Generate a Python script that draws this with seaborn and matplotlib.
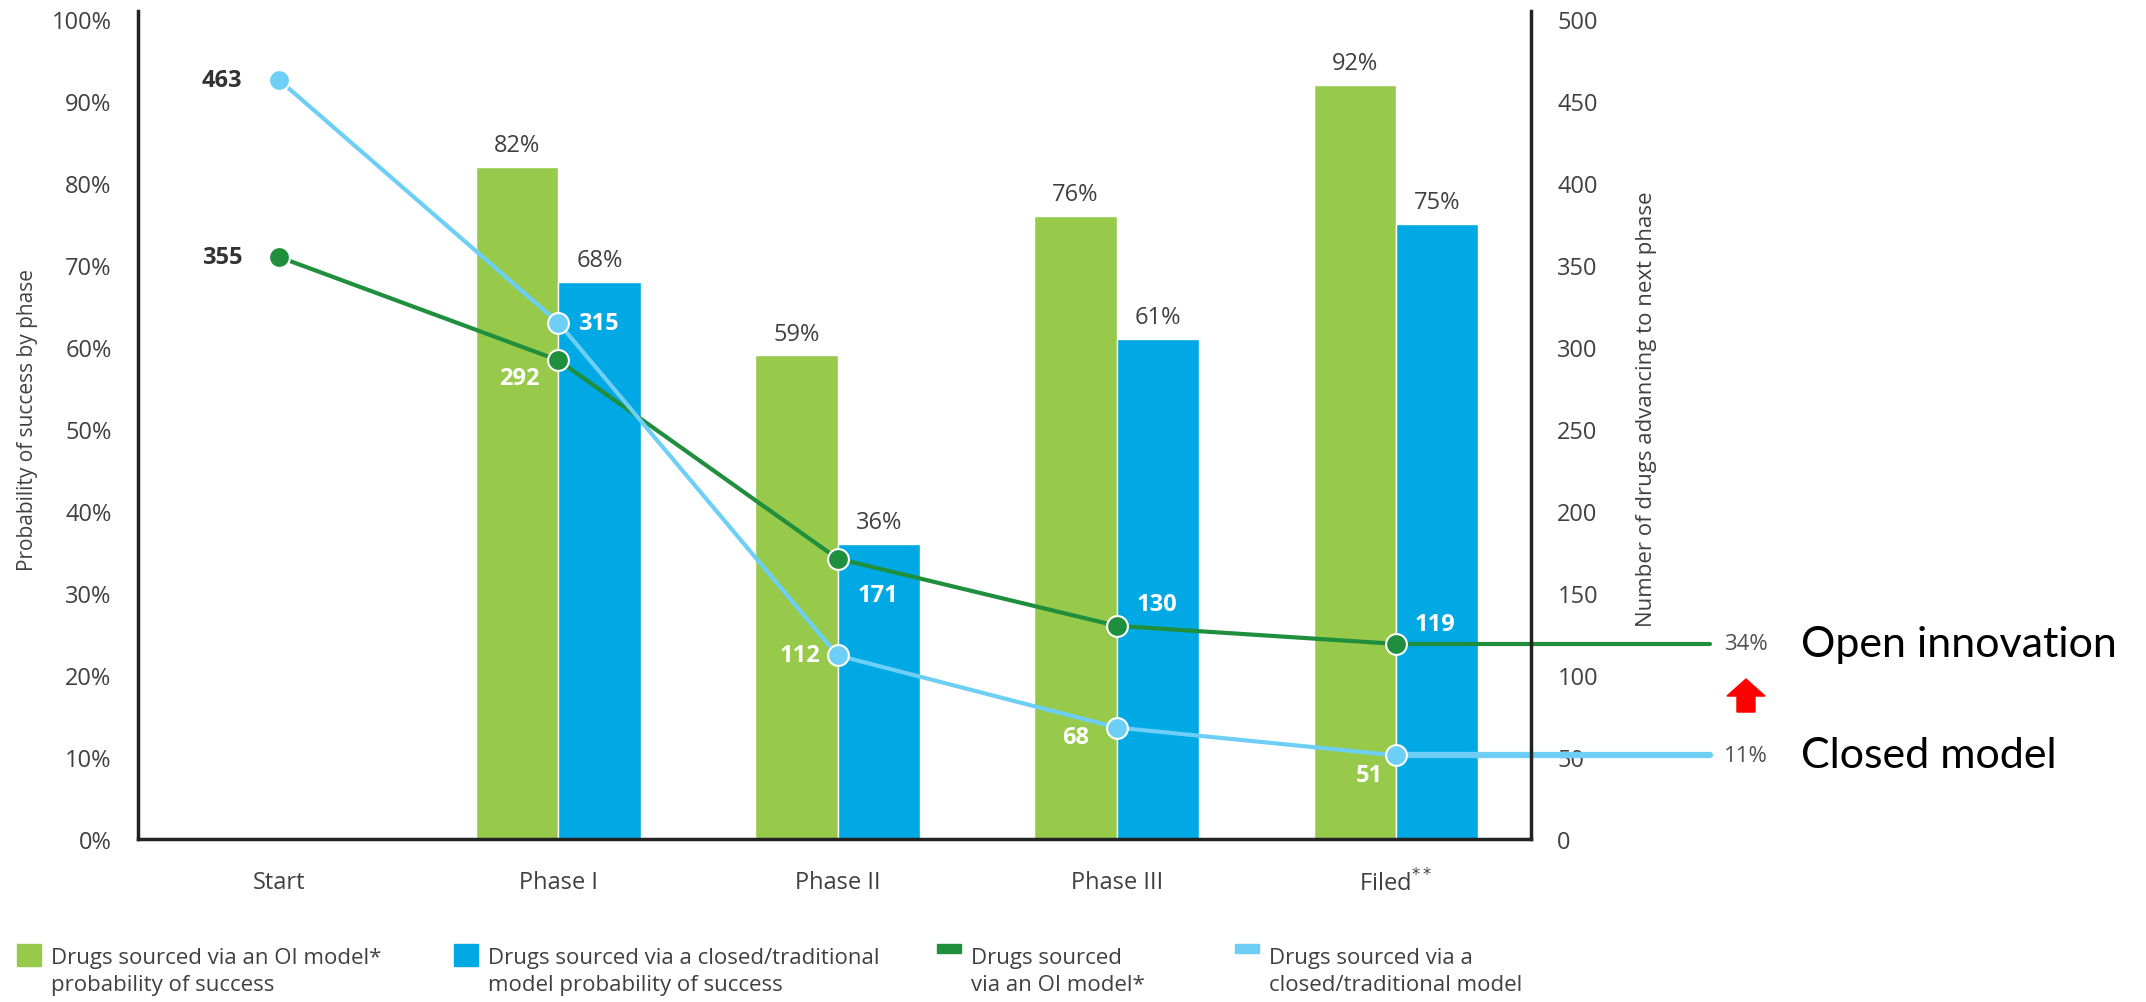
import matplotlib.pyplot as plt
import matplotlib.patches as mpatches
from matplotlib.legend_handler import HandlerPatch
import numpy as np
import pandas as pd
import seaborn as sns

# data
phases = ['Start', 'Phase I', 'Phase II', 'Phase III', 'Filed$^{**}$']
oi_success = [82, 59, 76, 92]          # % success, Phase I .. Filed
closed_success = [68, 36, 61, 75]
oi_drugs = [355, 292, 171, 130, 119]   # drugs advancing, Start .. Filed
closed_drugs = [463, 315, 112, 68, 51]
oi_overall = '34%'
closed_overall = '11%'
legend_labels = [
    'Drugs sourced via an OI model*\nprobability of success',
    'Drugs sourced via a closed/traditional\nmodel probability of success',
    'Drugs sourced\nvia an OI model*',
    'Drugs sourced via a\nclosed/traditional model',
]

GREEN_BAR = '#97c94a'
BLUE_BAR = '#00a9e3'
GREEN_LINE = '#1f8f3e'
BLUE_LINE = '#6dcff6'
TEXT = '#404040'

# label offsets in points, relative to each marker
oi_offsets = [(-41, 0), (-28, -13), (29, -26), (29, 16), (28, 14)]
closed_offsets = [(-41, 0), (29, 0), (-27, 0), (-30, -7), (-19, -14)]

sns.set_style('white')
plt.rcParams['font.family'] = ['Open Sans', 'DejaVu Sans']

fig = plt.figure(figsize=(21.46, 10.03), dpi=100)
ax = fig.add_axes([0.0643, 0.1625, 0.6491, 0.8255])

bars = pd.DataFrame({
    'phase': phases[1:] * 2,
    'model': ['OI'] * 4 + ['Closed'] * 4,
    'success': oi_success + closed_success,
})
sns.barplot(data=bars, x='phase', y='success', hue='model', order=phases,
            hue_order=['OI', 'Closed'], palette=[GREEN_BAR, BLUE_BAR], saturation=1,
            width=0.59, edgecolor='white', linewidth=1, legend=False, ax=ax)
for c in ax.containers:
    ax.bar_label(c, fmt='%d%%', padding=7, fontsize=17, color=TEXT)

ax2 = ax.twinx()
x = np.arange(len(phases))
x_end = 5.125
for vals, color, ext_lw in [(oi_drugs, GREEN_LINE, 3), (closed_drugs, BLUE_LINE, 4.5)]:
    sns.lineplot(x=x, y=vals, ax=ax2, color=color, linewidth=3, marker='o',
                 markersize=15, markeredgecolor='white', markeredgewidth=1.5)
    ax2.plot([x[-1], x_end], [vals[-1], vals[-1]], color=color, lw=ext_lw,
             clip_on=False, zorder=1)

for vals, offs in [(oi_drugs, oi_offsets), (closed_drugs, closed_offsets)]:
    for i, (v, (dx, dy)) in enumerate(zip(vals, offs)):
        ax2.annotate(str(v), (x[i], v), xytext=(dx, dy), textcoords='offset points',
                     ha='center', va='center', fontsize=17, fontweight='bold',
                     color='#333333' if i == 0 else 'white')

for vals, pct, name in [(oi_drugs, oi_overall, 'Open innovation'),
                        (closed_drugs, closed_overall, 'Closed model')]:
    ax2.annotate(pct, (x_end, vals[-1]), xytext=(10, 0), textcoords='offset points',
                 ha='left', va='center', fontsize=16, color='#505050',
                 annotation_clip=False)
    ax2.annotate(name, (x_end, vals[-1]), xytext=(65, 0), textcoords='offset points',
                 ha='left', va='center', fontsize=31, color='black',
                 family=['Lato', 'DejaVu Sans'], annotation_clip=False)

fig.add_artist(mpatches.FancyArrow(0.8136, 0.2891, 0, 0.0329, width=18 / 2146,
                                   head_width=38 / 2146, head_length=17 / 1003,
                                   length_includes_head=True, color='red',
                                   transform=fig.transFigure))

ax.set_xlim(-0.505, 4.483)
ax.set_ylim(0, 101)
ax2.set_ylim(0, 505)
ax.set_yticks(range(0, 101, 10))
ax.set_yticklabels([f'{v}%' for v in range(0, 101, 10)])
ax2.set_yticks(range(0, 501, 50))
ax.tick_params(axis='both', length=0, labelsize=17, labelcolor=TEXT)
ax.tick_params(axis='y', pad=19)
ax.tick_params(axis='x', pad=22)
ax2.tick_params(axis='y', length=0, labelsize=17, labelcolor=TEXT, pad=19)

ax.set_xlabel('')
ax.set_ylabel('Probability of success by phase', fontsize=15, color=TEXT)
ax.yaxis.set_label_coords(-0.0718, 0.507)
ax2.set_ylabel('Number of drugs advancing to next phase', fontsize=16, color=TEXT)
ax2.yaxis.set_label_coords(1.0754, 0.52)

for s in ['top', 'right']:
    ax.spines[s].set_visible(False)
for s in ['top', 'left', 'bottom']:
    ax2.spines[s].set_visible(False)
for sp in [ax.spines['left'], ax.spines['bottom'], ax2.spines['right']]:
    sp.set_color('#222222')
    sp.set_linewidth(2.5)


# legend keys sit next to the first line of each two-line label
def top_line_key(legend, orig_handle, xdescent, ydescent, width, height, fontsize):
    return mpatches.Rectangle((-xdescent, -ydescent + 1.2 * fontsize - height / 2),
                              width, height)


legend_keys = [GREEN_BAR, BLUE_BAR, GREEN_LINE, BLUE_LINE]
legend_x = [0.0077, 0.2115, 0.4364, 0.5755]
for i, (lab, col, lx) in enumerate(zip(legend_labels, legend_keys, legend_x)):
    is_line = i >= 2
    leg = fig.legend(handles=[mpatches.Patch(color=col, label=lab)],
                     handler_map={mpatches.Patch: HandlerPatch(patch_func=top_line_key)},
                     loc='upper left', bbox_to_anchor=(lx, 0.055), frameon=False,
                     borderpad=0, borderaxespad=0, handletextpad=0.45,
                     handlelength=1.1, handleheight=0.22 if is_line else 1.1,
                     fontsize=16, labelcolor=TEXT)
    for t in leg.get_texts():
        t.set_linespacing(1.36)

fig.savefig('out.png', dpi=100)
